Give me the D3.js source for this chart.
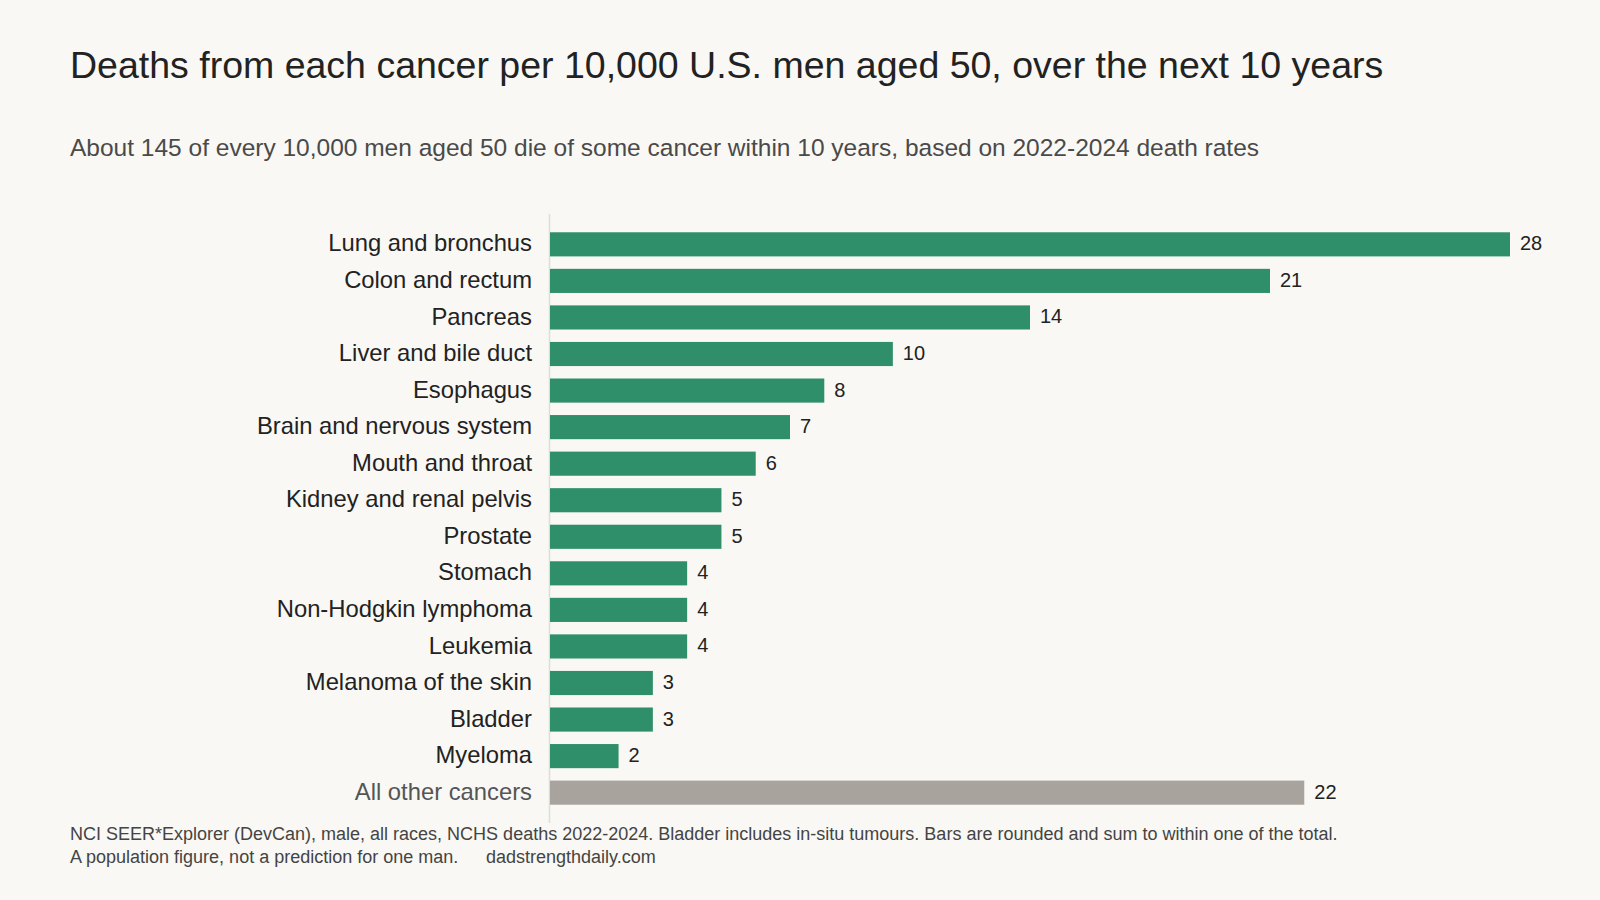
<!DOCTYPE html>
<html>
<head>
<meta charset="utf-8">
<script src="https://cdn.jsdelivr.net/npm/d3@7"></script>
<style>
  body { margin: 0; background: #f9f8f4; }
  svg { display: block; font-family: "Liberation Sans", Arial, sans-serif; }
</style>
</head>
<body>
<svg id="chart" width="1600" height="900"></svg>
<script>
const cancers = ['Lung and bronchus', 'Colon and rectum', 'Pancreas', 'Liver and bile duct', 'Esophagus',
  'Brain and nervous system', 'Mouth and throat', 'Kidney and renal pelvis', 'Prostate', 'Stomach',
  'Non-Hodgkin lymphoma', 'Leukemia', 'Melanoma of the skin', 'Bladder', 'Myeloma', 'All other cancers']
const deaths = [28, 21, 14, 10, 8, 7, 6, 5, 5, 4, 4, 4, 3, 3, 2, 22]
const otherLabel = 'All other cancers'

const title = 'Deaths from each cancer per 10,000 U.S. men aged 50, over the next 10 years'
const subtitle = 'About 145 of every 10,000 men aged 50 die of some cancer within 10 years, based on 2022-2024 death rates'
const notes = ['NCI SEER*Explorer (DevCan), male, all races, NCHS deaths 2022-2024. Bladder includes in-situ tumours. Bars are rounded and sum to within one of the total.',
  'A population figure, not a prediction for one man.']
const site = 'dadstrengthdaily.com'

const rows = cancers.map((c, i) => ({ name: c, value: deaths[i] }))

const svg = d3.select('#chart')
const plotLeft = 550, plotRight = 1510, plotTop = 214, plotBottom = 823

const x = d3.scaleLinear().domain([0, d3.max(deaths)]).range([plotLeft, plotRight])
const y = d3.scaleBand().domain(cancers).range([plotTop, plotBottom]).paddingInner(0.34).paddingOuter(0.5)

svg.append('text')
    .attr('x', 70).attr('y', 78)
    .attr('font-size', 37.5).attr('fill', '#222')
    .text(title)

svg.append('text')
    .attr('x', 70).attr('y', 156)
    .attr('font-size', 24.5).attr('fill', '#4a4a4a')
    .text(subtitle)

// thin baseline on the left of the bars
svg.append('line')
    .attr('x1', plotLeft - 0.5).attr('x2', plotLeft - 0.5)
    .attr('y1', plotTop).attr('y2', plotBottom)
    .attr('stroke', '#deddd8').attr('stroke-width', 1.5)

svg.append('g').selectAll('rect')
    .data(rows)
    .join('rect')
    .attr('x', x(0))
    .attr('y', d => y(d.name))
    .attr('width', d => x(d.value) - x(0))
    .attr('height', y.bandwidth())
    .attr('fill', d => d.name === otherLabel ? '#a8a39c' : '#2e8f6a')

svg.append('g').selectAll('text')
    .data(rows)
    .join('text')
    .attr('x', plotLeft - 18)
    .attr('y', d => y(d.name) + y.bandwidth() / 2)
    .attr('dy', '0.3em')
    .attr('text-anchor', 'end')
    .attr('font-size', 23.8)
    .attr('fill', d => d.name === otherLabel ? '#555' : '#222')
    .text(d => d.name)

svg.append('g').selectAll('text')
    .data(rows)
    .join('text')
    .attr('x', d => x(d.value) + 10)
    .attr('y', d => y(d.name) + y.bandwidth() / 2)
    .attr('dy', '0.3em')
    .attr('font-size', 20)
    .attr('fill', '#222')
    .text(d => d.value)

svg.append('text')
    .attr('x', 70).attr('y', 840)
    .attr('font-size', 18).attr('fill', '#444')
    .text(notes[0])

svg.append('text')
    .attr('x', 70).attr('y', 863)
    .attr('font-size', 18).attr('fill', '#444')
    .text(notes[1])

svg.append('text')
    .attr('x', 486).attr('y', 863)
    .attr('font-size', 18).attr('fill', '#444')
    .text(site)
</script>
</body>
</html>
